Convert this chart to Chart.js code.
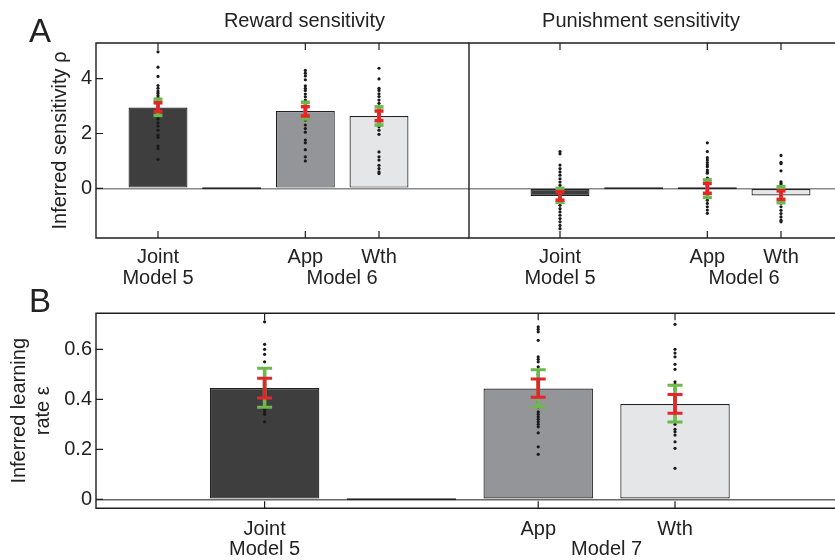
<!DOCTYPE html>
<html><head><meta charset="utf-8">
<script src="https://cdn.jsdelivr.net/npm/chart.js@4.4.0/dist/chart.umd.min.js"></script>
<style>
html,body{margin:0;padding:0;background:#fff;overflow:hidden;width:835px;height:560px;position:relative;}
.box{position:absolute;}
</style></head><body>
<div class="box" style="left:0;top:0;width:470px;height:300px"><canvas id="ca"></canvas></div>
<div class="box" style="left:449px;top:0;width:400px;height:300px"><canvas id="cb"></canvas></div>
<div class="box" style="left:0;top:280px;width:850px;height:280px"><canvas id="cc"></canvas></div>
<script>
Chart.defaults.font.family = '"Liberation Sans", Arial, Helvetica, sans-serif';
Chart.defaults.color = '#222';

// ---------- data ----------
const positions = [1, 2, 3, 4];          // Joint, (empty), App, Wth
const tickValues = [1, 3, 4];
const tickLabels = [['Joint', 'Model 5'], 'App', 'Wth'];
const modelLabelA = 'Model 6';
const modelLabelB = 'Model 7';
const modelLabelAt = 3.5;
const yTicksA = [0, 2, 4];
const yTicksB = [0, 0.2, 0.4, 0.6];

// Panel A, reward sensitivity
const rewardMeans   = [2.95, 0, 2.82, 2.64];
const rewardRedLo   = [2.80, null, 2.64, 2.47];
const rewardRedHi   = [3.12, null, 2.98, 2.82];
const rewardGreenLo = [2.66, null, 2.53, 2.31];
const rewardGreenHi = [3.25, null, 3.14, 2.97];
const rewardDots = [
  [4.98, 4.42, 4.08, 3.75, 3.65, 3.55, 3.47, 3.38, 3.30, 3.20, 3.10, 3.00, 2.90, 2.80, 2.70, 2.60, 2.52, 2.39, 2.27, 2.12, 1.94, 1.86, 1.54, 1.45, 1.06],
  [],
  [4.30, 4.20, 4.10, 3.96, 3.74, 3.65, 3.57, 3.44, 3.34, 3.22, 3.10, 2.95, 2.80, 2.65, 2.49, 2.31, 2.18, 2.05, 1.76, 1.66, 1.41, 1.15, 1.00],
  [4.38, 3.99, 3.65, 3.57, 3.45, 3.35, 3.22, 3.10, 2.97, 2.85, 2.70, 2.55, 2.40, 2.25, 2.12, 1.97, 1.33, 1.15, 1.03, 0.84, 0.72, 0.60, 0.54]
];

// Panel A, punishment sensitivity
const punishMeans   = [-0.28, 0, 0.0, -0.26];
const punishRedLo   = [-0.43, null, -0.18, -0.40];
const punishRedHi   = [-0.12, null, 0.18, -0.09];
const punishGreenLo = [-0.51, null, -0.33, -0.52];
const punishGreenHi = [0.00, null, 0.31, 0.06];
const punishDots = [
  [1.34, 1.26, 0.85, 0.72, 0.60, 0.48, 0.35, 0.23, 0.11, 0.00, -0.10, -0.20, -0.30, -0.40, -0.50, -0.62, -0.74, -0.86, -0.98, -1.10, -1.22, -1.35, -1.47],
  [],
  [1.66, 1.34, 1.12, 1.03, 0.94, 0.86, 0.79, 0.67, 0.60, 0.55, 0.37, 0.25, 0.10, 0.00, -0.10, -0.20, -0.30, -0.43, -0.55, -0.67, -0.79, -0.91],
  [1.20, 0.95, 0.90, 0.64, 0.24, 0.18, 0.12, 0.06, -0.05, -0.15, -0.25, -0.35, -0.45, -0.54, -0.67, -0.80, -0.92, -1.04, -1.16, -1.22]
];

// Panel B, learning rate
const learnMeans   = [0.445, 0, 0.443, 0.381];
const learnRedLo   = [0.405, null, 0.408, 0.344];
const learnRedHi   = [0.484, null, 0.481, 0.419];
const learnGreenLo = [0.368, null, 0.370, 0.309];
const learnGreenHi = [0.524, null, 0.518, 0.456];
const learnDots = [
  [0.71, 0.62, 0.60, 0.58, 0.55, 0.52, 0.49, 0.46, 0.44, 0.42, 0.40, 0.38, 0.36, 0.35, 0.34, 0.31],
  [],
  [0.69, 0.68, 0.67, 0.636, 0.57, 0.56, 0.55, 0.53, 0.50, 0.47, 0.44, 0.41, 0.39, 0.37, 0.35, 0.34, 0.33, 0.32, 0.31, 0.30, 0.29, 0.266, 0.21, 0.18],
  [0.70, 0.60, 0.585, 0.57, 0.54, 0.52, 0.47, 0.46, 0.44, 0.42, 0.40, 0.38, 0.36, 0.34, 0.31, 0.30, 0.28, 0.27, 0.257, 0.23, 0.204, 0.124]
];

// ---------- styles ----------
const BAR_COLORS = ['#3e3e3e', '#303030', '#939598', '#e5e6e8'];
const GREEN = '#6cb84a';
const RED = '#e4262b';

function buildDatasets(means, redLo, redHi, greenLo, greenHi, dots, capR, capW) {
  const idx = positions.map((p, i) => i).filter(i => redLo[i] !== null);
  const caps = (lo, hi) => idx.flatMap(i => [{x: positions[i], y: lo[i]}, {x: positions[i], y: hi[i]}]);
  return [
    {type: 'bar', data: positions.map((p, i) => ({x: p, y: means[i]})),
     backgroundColor: BAR_COLORS, borderColor: '#222', borderWidth: 1.2, borderSkipped: false,
     grouped: false, categoryPercentage: 0.8, barPercentage: 1, minBarLength: 2, order: 10},
    {type: 'scatter', data: dots.flatMap((arr, i) => arr.map(v => ({x: positions[i], y: v}))),
     pointRadius: 1.6, pointBackgroundColor: '#1a1a1a', pointBorderWidth: 0, order: 8},
    {type: 'bar', data: idx.map(i => ({x: positions[i], y: [greenLo[i], greenHi[i]]})),
     backgroundColor: GREEN, barThickness: 3, grouped: false, borderWidth: 0, order: 6},
    {type: 'scatter', data: caps(greenLo, greenHi), pointStyle: 'line', pointRadius: capR,
     pointBorderColor: GREEN, pointBorderWidth: capW, order: 5},
    {type: 'bar', data: idx.map(i => ({x: positions[i], y: [redLo[i], redHi[i]]})),
     backgroundColor: RED, barThickness: 3, grouped: false, borderWidth: 0, order: 4},
    {type: 'scatter', data: caps(redLo, redHi), pointStyle: 'line', pointRadius: capR,
     pointBorderColor: RED, pointBorderWidth: capW, order: 3}
  ];
}

const framePlugin = {
  id: 'frame',
  afterDraw(chart, args, opts) {
    const {ctx, chartArea: a, scales: {x, y}} = chart;
    ctx.save();
    ctx.strokeStyle = '#1e1e1e';
    ctx.lineWidth = 1.4;
    ctx.beginPath();
    ctx.moveTo(a.right, a.top); ctx.lineTo(a.left, a.top); ctx.lineTo(a.left, a.bottom); ctx.lineTo(a.right, a.bottom);
    ctx.stroke();
    ctx.lineWidth = 1.2;
    ctx.beginPath();
    tickValues.forEach(v => {
      const px = x.getPixelForValue(v);
      ctx.moveTo(px, a.top); ctx.lineTo(px, a.top + 7);
      ctx.moveTo(px, a.bottom); ctx.lineTo(px, a.bottom - 7);
    });
    if (opts.yMarks) {
      y.ticks.forEach(t => {
        const py = y.getPixelForValue(t.value);
        ctx.moveTo(a.left, py); ctx.lineTo(a.left + 7, py);
      });
    }
    ctx.stroke();
    ctx.fillStyle = '#222';
    // second-line group label under App / Wth
    if (opts.model) {
      const t = x.options.ticks;
      const lh = 20 * t.font.lineHeight;
      ctx.font = '20px "Liberation Sans", Arial, sans-serif';
      ctx.textAlign = 'center';
      ctx.textBaseline = 'middle';
      ctx.fillText(opts.model, x.getPixelForValue(modelLabelAt), x.top + t.padding + lh * 1.5);
    }
    ctx.textBaseline = 'alphabetic';
    (opts.texts || []).forEach(t => {
      ctx.font = t.size + 'px "Liberation Sans", Arial, sans-serif';
      ctx.textAlign = t.align || 'center';
      ctx.fillText(t.text, t.x, t.y);
    });
    ctx.restore();
  }
};

function xScale(min, max, pad, lh, height) {
  return {
    type: 'linear', min: min, max: max, offset: false,
    grid: {display: false, drawTicks: false}, border: {display: false},
    afterBuildTicks: s => { s.ticks = tickValues.map(v => ({value: v})); },
    afterFit: s => { s.height = height; },
    ticks: {autoSkip: false, maxRotation: 0, minRotation: 0, padding: pad,
            font: {size: 20, lineHeight: lh}, color: '#222',
            callback: (v, i) => tickLabels[i]}
  };
}

function yScale(min, max, ticks, showLabels, title, titlePad, width, zeroColor) {
  return {
    type: 'linear', min: min, max: max,
    border: {display: false},
    grid: {drawTicks: false, lineWidth: 1.5,
           color: c => (c.tick && c.tick.value === 0) ? zeroColor : 'rgba(0,0,0,0)'},
    afterBuildTicks: s => { s.ticks = ticks.map(v => ({value: v})); },
    afterFit: s => { s.width = width; },
    ticks: {display: showLabels, padding: 4, font: {size: 20}, color: '#222',
            callback: v => String(v)},
    title: {display: !!title, text: title, color: '#222',
            font: {size: 20, lineHeight: 1.2}, padding: {top: titlePad, bottom: 0}}
  };
}

function common(padding, x, y, frameOpts) {
  return {
    responsive: true, maintainAspectRatio: false, animation: false, events: [],
    layout: {padding: padding, autoPadding: false},
    scales: {x: x, y: y},
    plugins: {legend: {display: false}, tooltip: {enabled: false}, frame: frameOpts}
  };
}

new Chart(document.getElementById('ca'), {
  type: 'bar',
  data: {datasets: buildDatasets(rewardMeans, rewardRedLo, rewardRedHi, rewardGreenLo, rewardGreenHi, rewardDots, 4.5, 3.5)},
  options: common({left: 0, right: 1, top: 43, bottom: 0},
    xScale(0.1584, 5.2217, 8.9, 1.05, 62),
    yScale(-1.81, 5.30, yTicksA, true, 'Inferred sensitivity ρ', 48.4, 96, '#8a8a8a'),
    {yMarks: true, model: modelLabelA,
     texts: [{text: 'A', x: 29, y: 42, size: 33, align: 'left'},
             {text: 'Reward sensitivity', x: 304.5, y: 27, size: 20}]}),
  plugins: [framePlugin]
});

new Chart(document.getElementById('cb'), {
  type: 'bar',
  data: {datasets: buildDatasets(punishMeans, punishRedLo, punishRedHi, punishGreenLo, punishGreenHi, punishDots, 4.5, 3.5)},
  options: common({left: 20, right: 9, top: 43, bottom: 0},
    xScale(-0.2353, 4.8009, 8.9, 1.05, 62),
    yScale(-1.81, 5.30, yTicksA, false, '', 0, 0, '#8a8a8a'),
    {yMarks: false, model: modelLabelA,
     texts: [{text: 'Punishment sensitivity', x: 192, y: 27, size: 20}]}),
  plugins: [framePlugin]
});

new Chart(document.getElementById('cc'), {
  type: 'bar',
  data: {datasets: buildDatasets(learnMeans, learnRedLo, learnRedHi, learnGreenLo, learnGreenHi, learnDots, 7.5, 3)},
  options: common({left: 0, right: 10, top: 33.3, bottom: 0},
    xScale(-0.2325, 5.206, 10.8, 1.0, 51.7),
    yScale(-0.036, 0.744, yTicksB, true, ['Inferred learning', 'rate ε'], 7.4, 96, '#666666'),
    {yMarks: true, model: modelLabelB,
     texts: [{text: 'B', x: 29, y: 31.7, size: 33, align: 'left'}]}),
  plugins: [framePlugin]
});
</script>
</body></html>
